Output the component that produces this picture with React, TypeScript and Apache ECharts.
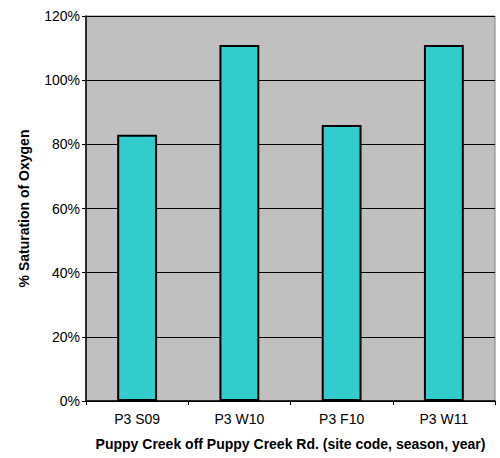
import React, { useEffect, useRef } from "react";
import * as echarts from "echarts";

const categories = ["P3 S09", "P3 W10", "P3 F10", "P3 W11"];
const saturation = [83, 111, 86, 111];
const yTicks = { min: 0, max: 120, interval: 20 };
const xTitle = "Puppy Creek off Puppy Creek Rd. (site code, season, year)";
const yTitle = "% Saturation of Oxygen";

export default function App() {
  const ref = useRef<HTMLDivElement>(null);
  useEffect(() => {
    document.body.style.margin = "0";
    const chart = echarts.init(ref.current!, null, { renderer: "svg" });
    const font = "'Liberation Sans', Arial, sans-serif";
    chart.setOption({
      animation: false,
      backgroundColor: "#ffffff",
      grid: {
        left: 86,
        top: 16,
        right: 5,
        bottom: 57,
        show: true,
        backgroundColor: "#c0c0c0",
        borderColor: "#808080",
        borderWidth: 1,
      },
      xAxis: {
        type: "category",
        data: categories,
        boundaryGap: true,
        name: xTitle,
        nameLocation: "middle",
        nameGap: 36,
        nameTextStyle: { fontFamily: font, fontWeight: "bold", fontSize: 14, color: "#000" },
        axisLine: { lineStyle: { color: "#000", width: 1.5 } },
        axisTick: { show: true, length: 4, lineStyle: { color: "#000" } },
        axisLabel: { fontFamily: font, fontSize: 14, color: "#000", margin: 11 },
        splitLine: { show: false },
      },
      yAxis: {
        type: "value",
        min: yTicks.min,
        max: yTicks.max,
        interval: yTicks.interval,
        name: yTitle,
        nameLocation: "middle",
        nameGap: 55,
        nameRotate: 90,
        nameTextStyle: { fontFamily: font, fontWeight: "bold", fontSize: 14, color: "#000" },
        axisLine: { show: true, lineStyle: { color: "#000", width: 1.5 } },
        axisTick: { show: true, length: 4, lineStyle: { color: "#000" } },
        axisLabel: { fontFamily: font, fontSize: 14, color: "#000", margin: 6, formatter: "{value}%" },
        splitLine: { show: true, lineStyle: { color: "#000", width: 1 } },
      },
      series: [
        {
          type: "bar",
          data: saturation,
          barWidth: "39%",
          itemStyle: { color: "#33cccc", borderColor: "#000", borderWidth: 2 },
        },
      ],
    });
    return () => chart.dispose();
  }, []);
  return <div ref={ref} style={{ width: 500, height: 458 }} />;
}
